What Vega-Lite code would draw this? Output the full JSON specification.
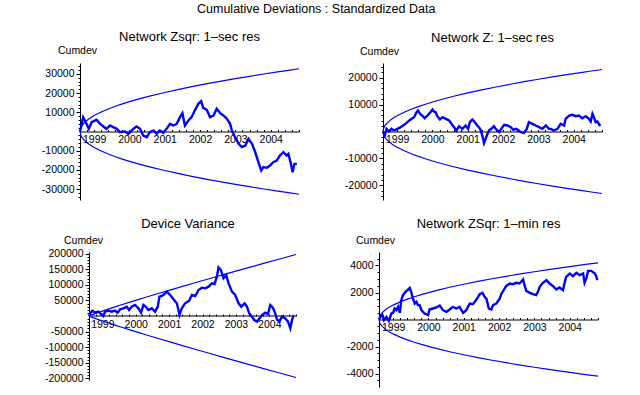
{
"$schema": "https://vega.github.io/schema/vega-lite/v6.json",
"padding": {"left": 41, "top": 2, "right": 5, "bottom": 5},
"title": {"text": "Cumulative  Deviations : Standardized  Data", "fontSize": 12.5, "anchor": "middle", "baseline": "alphabetic", "offset": 5.5, "dx": -7},
"config": {
 "view": {"stroke": null},
 "font": "Liberation Sans",
 "axis": {"grid": false, "domainColor": "#000", "tickColor": "#000", "labelColor": "#000", "titleColor": "#000", "labelFont": "Liberation Sans", "labelFontSize": 10.5, "titleFont": "Liberation Sans", "titleFontSize": 10.5, "titleFontWeight": "normal", "domainWidth": 1, "tickWidth": 1, "labelOverlap": false, "labelFlush": false, "tickCount": 100},
 "title": {"font": "Liberation Sans", "fontSize": 13, "fontWeight": "normal", "color": "#000"}
},
"datasets": {
 "zero": [{"a": 1998.6, "b": 2004.8, "z": 0}],
 "env": [
  {"t":1998.6,"u1":0,"u2":0,"u3":0,"u4":0,"l1":0,"l2":0,"l3":0,"l4":0},
  {"t":1998.62,"u1":1857,"u2":1306,"u3":1007,"u4":239,"l1":-1857,"l2":-1306,"l3":-1007,"l4":-239},
  {"t":1998.65,"u1":2936,"u2":2065,"u3":2336,"u4":377,"l1":-2936,"l2":-2065,"l3":-2336,"l4":-377},
  {"t":1998.7,"u1":4153,"u2":2921,"u3":4421,"u4":533,"l1":-4153,"l2":-2921,"l3":-4421,"l4":-533},
  {"t":1998.8,"u1":5873,"u2":4131,"u3":8363,"u4":754,"l1":-5873,"l2":-4131,"l3":-8363,"l4":-754},
  {"t":1998.9,"u1":7194,"u2":5060,"u3":12155,"u4":924,"l1":-7194,"l2":-5060,"l3":-12155,"l4":-924},
  {"t":1999.0,"u1":8306,"u2":5842,"u3":15819,"u4":1067,"l1":-8306,"l2":-5842,"l3":-15819,"l4":-1067},
  {"t":1999.2,"u1":10170,"u2":7153,"u3":22990,"u4":1306,"l1":-10170,"l2":-7153,"l3":-22990,"l4":-1306},
  {"t":1999.4,"u1":11739,"u2":8257,"u3":29944,"u4":1508,"l1":-11739,"l2":-8257,"l3":-29944,"l4":-1508},
  {"t":1999.6,"u1":13132,"u2":9237,"u3":36780,"u4":1687,"l1":-13132,"l2":-9237,"l3":-36780,"l4":-1687},
  {"t":1999.8,"u1":14388,"u2":10120,"u3":43478,"u4":1848,"l1":-14388,"l2":-10120,"l3":-43478,"l4":-1848},
  {"t":2000.0,"u1":15533,"u2":10925,"u3":50117,"u4":1995,"l1":-15533,"l2":-10925,"l3":-50117,"l4":-1995},
  {"t":2000.3,"u1":17122,"u2":12043,"u3":59927,"u4":2199,"l1":-17122,"l2":-12043,"l3":-59927,"l4":-2199},
  {"t":2000.6,"u1":18574,"u2":13064,"u3":69561,"u4":2386,"l1":-18574,"l2":-13064,"l3":-69561,"l4":-2386},
  {"t":2001.0,"u1":20339,"u2":14306,"u3":82287,"u4":2612,"l1":-20339,"l2":-14306,"l3":-82287,"l4":-2612},
  {"t":2001.4,"u1":21974,"u2":15456,"u3":94816,"u4":2822,"l1":-21974,"l2":-15456,"l3":-94816,"l4":-2822},
  {"t":2001.8,"u1":23479,"u2":16514,"u3":107188,"u4":3016,"l1":-23479,"l2":-16514,"l3":-107188,"l4":-3016},
  {"t":2002.2,"u1":24917,"u2":17526,"u3":119461,"u4":3200,"l1":-24917,"l2":-17526,"l3":-119461,"l4":-3200},
  {"t":2002.6,"u1":26258,"u2":18469,"u3":131655,"u4":3373,"l1":-26258,"l2":-18469,"l3":-131655,"l4":-3373},
  {"t":2003.0,"u1":27533,"u2":19366,"u3":143692,"u4":3536,"l1":-27533,"l2":-19366,"l3":-143692,"l4":-3536},
  {"t":2003.4,"u1":28776,"u2":20240,"u3":155669,"u4":3696,"l1":-28776,"l2":-20240,"l3":-155669,"l4":-3696},
  {"t":2003.8,"u1":29953,"u2":21068,"u3":167568,"u4":3847,"l1":-29953,"l2":-21068,"l3":-167568,"l4":-3847},
  {"t":2004.2,"u1":31065,"u2":21850,"u3":179388,"u4":3990,"l1":-31065,"l2":-21850,"l3":-179388,"l4":-3990},
  {"t":2004.5,"u1":31899,"u2":22437,"u3":188214,"u4":4097,"l1":-31899,"l2":-22437,"l3":-188214,"l4":-4097},
  {"t":2004.8,"u1":32700,"u2":23000,"u3":197000,"u4":4200,"l1":-32700,"l2":-23000,"l3":-197000,"l4":-4200}
 ],
 "p1": [
  {"t":1998.60,"v":0},{"t":1998.69,"v":7469},{"t":1998.74,"v":5732},{"t":1998.85,"v":1390},{"t":1998.93,"v":4864},{"t":1999.07,"v":6080},{"t":1999.17,"v":3995},{"t":1999.26,"v":2606},{"t":1999.35,"v":1390},{"t":1999.45,"v":3127},{"t":1999.54,"v":2258},{"t":1999.64,"v":1390},{"t":1999.73,"v":-347},{"t":1999.87,"v":0},{"t":1999.97,"v":-1216},{"t":2000.11,"v":1390},{"t":2000.20,"v":2606},{"t":2000.30,"v":1390},{"t":2000.39,"v":-2084},{"t":2000.49,"v":-2953},{"t":2000.58,"v":-347},{"t":2000.68,"v":521},{"t":2000.77,"v":-1216},{"t":2000.86,"v":521},{"t":2000.96,"v":-695},{"t":2001.05,"v":1390},{"t":2001.15,"v":3995},{"t":2001.24,"v":3127},{"t":2001.34,"v":3995},{"t":2001.43,"v":7469},{"t":2001.50,"v":9554},{"t":2001.57,"v":3127},{"t":2001.67,"v":5732},{"t":2001.76,"v":7469},{"t":2001.86,"v":11291},{"t":2001.95,"v":14417},{"t":2002.03,"v":15807},{"t":2002.09,"v":12333},{"t":2002.19,"v":11291},{"t":2002.28,"v":7469},{"t":2002.38,"v":8338},{"t":2002.47,"v":11812},{"t":2002.57,"v":9554},{"t":2002.66,"v":8338},{"t":2002.76,"v":6601},{"t":2002.85,"v":3995},{"t":2002.90,"v":521},{"t":2002.99,"v":-2953},{"t":2003.09,"v":-6427},{"t":2003.18,"v":-8164},{"t":2003.28,"v":-7295},{"t":2003.37,"v":-3821},{"t":2003.47,"v":-6427},{"t":2003.56,"v":-10769},{"t":2003.65,"v":-15980},{"t":2003.73,"v":-20323},{"t":2003.79,"v":-18586},{"t":2003.89,"v":-18933},{"t":2003.98,"v":-17717},{"t":2004.07,"v":-15980},{"t":2004.17,"v":-15112},{"t":2004.26,"v":-12506},{"t":2004.36,"v":-10769},{"t":2004.45,"v":-12506},{"t":2004.50,"v":-11638},{"t":2004.57,"v":-16849},{"t":2004.62,"v":-21191},{"t":2004.67,"v":-16849},{"t":2004.74,"v":-16849}
 ],
 "p2": [
  {"t":1998.60,"v":0},{"t":1998.65,"v":-1482},{"t":1998.70,"v":988},{"t":1998.77,"v":0},{"t":1998.84,"v":988},{"t":1998.91,"v":371},{"t":1999.01,"v":988},{"t":1999.10,"v":1606},{"t":1999.20,"v":2470},{"t":1999.29,"v":3458},{"t":1999.38,"v":4446},{"t":1999.48,"v":5311},{"t":1999.55,"v":7163},{"t":1999.59,"v":7781},{"t":1999.65,"v":6546},{"t":1999.71,"v":5928},{"t":1999.78,"v":4940},{"t":1999.86,"v":5928},{"t":1999.93,"v":6916},{"t":2000.00,"v":8151},{"t":2000.04,"v":7410},{"t":2000.09,"v":7163},{"t":2000.14,"v":5681},{"t":2000.21,"v":4446},{"t":2000.28,"v":5311},{"t":2000.38,"v":4693},{"t":2000.47,"v":4076},{"t":2000.54,"v":2841},{"t":2000.61,"v":1606},{"t":2000.68,"v":371},{"t":2000.75,"v":1976},{"t":2000.85,"v":988},{"t":2000.94,"v":2223},{"t":2001.01,"v":988},{"t":2001.06,"v":3458},{"t":2001.13,"v":4446},{"t":2001.20,"v":3458},{"t":2001.27,"v":2223},{"t":2001.35,"v":988},{"t":2001.41,"v":-1482},{"t":2001.46,"v":-4323},{"t":2001.54,"v":-1482},{"t":2001.60,"v":371},{"t":2001.67,"v":988},{"t":2001.74,"v":1976},{"t":2001.79,"v":988},{"t":2001.89,"v":-247},{"t":2001.95,"v":988},{"t":2002.03,"v":2470},{"t":2002.12,"v":2223},{"t":2002.22,"v":1606},{"t":2002.29,"v":618},{"t":2002.36,"v":988},{"t":2002.42,"v":618},{"t":2002.50,"v":-247},{"t":2002.59,"v":-494},{"t":2002.67,"v":988},{"t":2002.73,"v":3458},{"t":2002.83,"v":2841},{"t":2002.92,"v":2223},{"t":2003.02,"v":1606},{"t":2003.11,"v":988},{"t":2003.21,"v":2223},{"t":2003.30,"v":988},{"t":2003.35,"v":988},{"t":2003.44,"v":371},{"t":2003.54,"v":988},{"t":2003.63,"v":2841},{"t":2003.73,"v":2223},{"t":2003.77,"v":4693},{"t":2003.87,"v":5928},{"t":2003.96,"v":6175},{"t":2004.06,"v":5681},{"t":2004.15,"v":5928},{"t":2004.24,"v":4940},{"t":2004.34,"v":5681},{"t":2004.43,"v":4693},{"t":2004.48,"v":3705},{"t":2004.53,"v":6546},{"t":2004.57,"v":5311},{"t":2004.62,"v":3458},{"t":2004.67,"v":3705},{"t":2004.75,"v":1976}
 ],
 "p3": [
  {"t":1998.60,"v":0},{"t":1998.65,"v":10680},{"t":1998.70,"v":17088},{"t":1998.78,"v":10680},{"t":1998.88,"v":13884},{"t":1998.96,"v":6408},{"t":1999.03,"v":0},{"t":1999.08,"v":13884},{"t":1999.18,"v":17088},{"t":1999.28,"v":13884},{"t":1999.38,"v":17088},{"t":1999.46,"v":10680},{"t":1999.53,"v":21360},{"t":1999.63,"v":24564},{"t":1999.73,"v":29904},{"t":1999.80,"v":19224},{"t":1999.88,"v":29904},{"t":1999.98,"v":35244},{"t":2000.08,"v":24564},{"t":2000.16,"v":10680},{"t":2000.23,"v":35244},{"t":2000.30,"v":29904},{"t":2000.38,"v":19224},{"t":2000.48,"v":24564},{"t":2000.58,"v":13884},{"t":2000.66,"v":29904},{"t":2000.71,"v":61944},{"t":2000.78,"v":64080},{"t":2000.86,"v":70488},{"t":2000.93,"v":77964},{"t":2001.03,"v":67284},{"t":2001.13,"v":53400},{"t":2001.23,"v":40584},{"t":2001.28,"v":19224},{"t":2001.31,"v":3204},{"t":2001.38,"v":24564},{"t":2001.48,"v":40584},{"t":2001.60,"v":49128},{"t":2001.68,"v":67284},{"t":2001.78,"v":64080},{"t":2001.88,"v":83304},{"t":2001.98,"v":90780},{"t":2002.08,"v":88644},{"t":2002.18,"v":93984},{"t":2002.28,"v":104664},{"t":2002.36,"v":102528},{"t":2002.43,"v":126024},{"t":2002.48,"v":155928},{"t":2002.55,"v":147384},{"t":2002.63,"v":120684},{"t":2002.71,"v":131364},{"t":2002.78,"v":104664},{"t":2002.88,"v":77964},{"t":2002.98,"v":67284},{"t":2003.08,"v":40584},{"t":2003.16,"v":29904},{"t":2003.26,"v":40584},{"t":2003.33,"v":29904},{"t":2003.40,"v":8544},{"t":2003.48,"v":-2136},{"t":2003.55,"v":-12816},{"t":2003.63,"v":-18156},{"t":2003.71,"v":-7476},{"t":2003.78,"v":3204},{"t":2003.88,"v":10680},{"t":2003.96,"v":6408},{"t":2004.03,"v":35244},{"t":2004.10,"v":27768},{"t":2004.16,"v":13884},{"t":2004.23,"v":-10680},{"t":2004.30,"v":-18156},{"t":2004.38,"v":-2136},{"t":2004.48,"v":-7476},{"t":2004.56,"v":-18156},{"t":2004.63,"v":-39516},{"t":2004.68,"v":-12816},{"t":2004.73,"v":3204}
 ],
 "p4": [
  {"t":1998.60,"v":0},{"t":1998.64,"v":198},{"t":1998.69,"v":395},{"t":1998.74,"v":-49},{"t":1998.81,"v":198},{"t":1998.88,"v":-99},{"t":1998.95,"v":444},{"t":1999.00,"v":494},{"t":1999.04,"v":815},{"t":1999.09,"v":691},{"t":1999.14,"v":938},{"t":1999.19,"v":494},{"t":1999.23,"v":1432},{"t":1999.28,"v":1802},{"t":1999.35,"v":2049},{"t":1999.42,"v":2222},{"t":1999.47,"v":2346},{"t":1999.52,"v":1975},{"t":1999.56,"v":1555},{"t":1999.61,"v":1185},{"t":1999.66,"v":1309},{"t":1999.70,"v":1062},{"t":1999.75,"v":1062},{"t":1999.80,"v":691},{"t":1999.89,"v":444},{"t":1999.99,"v":321},{"t":2000.03,"v":741},{"t":2000.13,"v":815},{"t":2000.22,"v":889},{"t":2000.32,"v":1037},{"t":2000.41,"v":691},{"t":2000.51,"v":568},{"t":2000.60,"v":741},{"t":2000.69,"v":938},{"t":2000.79,"v":815},{"t":2000.88,"v":938},{"t":2000.98,"v":494},{"t":2001.07,"v":691},{"t":2001.17,"v":1185},{"t":2001.26,"v":1136},{"t":2001.36,"v":1481},{"t":2001.45,"v":1876},{"t":2001.53,"v":1975},{"t":2001.59,"v":1679},{"t":2001.64,"v":1555},{"t":2001.71,"v":815},{"t":2001.78,"v":741},{"t":2001.83,"v":1062},{"t":2001.92,"v":1185},{"t":2002.02,"v":1555},{"t":2002.06,"v":1876},{"t":2002.13,"v":2173},{"t":2002.20,"v":2469},{"t":2002.30,"v":2667},{"t":2002.39,"v":2617},{"t":2002.49,"v":2716},{"t":2002.58,"v":2667},{"t":2002.68,"v":2963},{"t":2002.72,"v":2543},{"t":2002.77,"v":2123},{"t":2002.87,"v":1975},{"t":2002.96,"v":1876},{"t":2003.05,"v":1802},{"t":2003.10,"v":2049},{"t":2003.15,"v":2420},{"t":2003.24,"v":2716},{"t":2003.34,"v":2913},{"t":2003.43,"v":2667},{"t":2003.53,"v":2469},{"t":2003.62,"v":2222},{"t":2003.71,"v":2370},{"t":2003.81,"v":2173},{"t":2003.86,"v":2790},{"t":2003.90,"v":3160},{"t":2004.00,"v":3407},{"t":2004.09,"v":3210},{"t":2004.19,"v":3457},{"t":2004.28,"v":3284},{"t":2004.38,"v":3407},{"t":2004.42,"v":2716},{"t":2004.47,"v":3037},{"t":2004.52,"v":3605},{"t":2004.61,"v":3605},{"t":2004.71,"v":3407},{"t":2004.75,"v":3210},{"t":2004.78,"v":2913}
 ]
},
"columns": 2,
"align": "none",
"spacing": {"row": 15, "column": 42},
"concat": [
  {"width": 219, "height": 137,
   "title": {"text": "Network  Zsqr: 1–sec res", "frame": "group", "anchor": "middle", "baseline": "alphabetic", "offset": -8.5},
   "layer": [
    {"data": {"name": "env"}, "mark": {"type": "line", "color": "#0000ff", "strokeWidth": 1.2},
     "encoding": {
      "x": {"field": "t", "type": "quantitative", "title": null, "scale": {"domain": [1998.6, 2004.8], "nice": false, "zero": false},
        "axis": {"orient": "bottom", "offset": -68.5, "tickCount": 100, "values": [1998.8,1999,1999.2,1999.4,1999.6,1999.8,2000,2000.2,2000.4,2000.6,2000.8,2001,2001.2,2001.4,2001.6,2001.8,2002,2002.2,2002.4,2002.6,2002.8,2003,2003.2,2003.4,2003.6,2003.8,2004,2004.2,2004.4,2004.6,2004.8], "labelExpr": "abs(datum.value - round(datum.value)) < 0.01 ? format(round(datum.value), 'd') : ''", "tickSize": -2, "labelPadding": 5, "labelBaseline": "top"}},
      "y": {"field": "u1", "type": "quantitative", "title": "Cumdev", "scale": {"domain": [-35700, 35700], "nice": false},
        "axis": {"tickCount": 100, "values": [-34000,-32000,-30000,-28000,-26000,-24000,-22000,-20000,-18000,-16000,-14000,-12000,-10000,-8000,-6000,-4000,-2000,2000,4000,6000,8000,10000,12000,14000,16000,18000,20000,22000,24000,26000,28000,30000,32000,34000], "labelExpr": "datum.value % 10000 == 0 ? (datum.value < 0 ? '-' : '') + format(abs(datum.value), 'd') : ''", "tickSize": {"condition": {"test": "datum.value % 10000 == 0", "value": 4}, "value": 2}, "labelPadding": 2, "titleAngle": 0, "titleAlign": "center", "titleBaseline": "alphabetic", "titleX": -3, "titleY": -10}}
     }},
    {"data": {"name": "env"}, "mark": {"type": "line", "color": "#0000ff", "strokeWidth": 1.2},
     "encoding": {"x": {"field": "t", "type": "quantitative", "title": null}, "y": {"field": "l1", "type": "quantitative", "title": "Cumdev"}}},
    {"data": {"name": "p1"}, "mark": {"type": "line", "color": "#0000ff", "strokeWidth": 2.4},
     "encoding": {"x": {"field": "t", "type": "quantitative", "title": null}, "y": {"field": "v", "type": "quantitative", "title": "Cumdev"}}}
   ]},
  {"width": 219, "height": 137,
   "title": {"text": "Network  Z: 1–sec res", "frame": "group", "anchor": "middle", "baseline": "alphabetic", "offset": -8.5},
   "layer": [
    {"data": {"name": "env"}, "mark": {"type": "line", "color": "#0000ff", "strokeWidth": 1.2},
     "encoding": {
      "x": {"field": "t", "type": "quantitative", "title": null, "scale": {"domain": [1998.6, 2004.8], "nice": false, "zero": false},
        "axis": {"orient": "bottom", "offset": -68.5, "tickCount": 100, "values": [1998.8,1999,1999.2,1999.4,1999.6,1999.8,2000,2000.2,2000.4,2000.6,2000.8,2001,2001.2,2001.4,2001.6,2001.8,2002,2002.2,2002.4,2002.6,2002.8,2003,2003.2,2003.4,2003.6,2003.8,2004,2004.2,2004.4,2004.6,2004.8], "labelExpr": "abs(datum.value - round(datum.value)) < 0.01 ? format(round(datum.value), 'd') : ''", "tickSize": -2, "labelPadding": 5, "labelBaseline": "top"}},
      "y": {"field": "u2", "type": "quantitative", "title": "Cumdev", "scale": {"domain": [-25400, 25400], "nice": false},
        "axis": {"tickCount": 100, "values": [-24000,-22000,-20000,-18000,-16000,-14000,-12000,-10000,-8000,-6000,-4000,-2000,2000,4000,6000,8000,10000,12000,14000,16000,18000,20000,22000,24000], "labelExpr": "datum.value % 10000 == 0 ? (datum.value < 0 ? '-' : '') + format(abs(datum.value), 'd') : ''", "tickSize": {"condition": {"test": "datum.value % 10000 == 0", "value": 4}, "value": 2}, "labelPadding": 2, "titleAngle": 0, "titleAlign": "center", "titleBaseline": "alphabetic", "titleX": -4, "titleY": -9}}
     }},
    {"data": {"name": "env"}, "mark": {"type": "line", "color": "#0000ff", "strokeWidth": 1.2},
     "encoding": {"x": {"field": "t", "type": "quantitative", "title": null}, "y": {"field": "l2", "type": "quantitative", "title": "Cumdev"}}},
    {"data": {"name": "p2"}, "mark": {"type": "line", "color": "#0000ff", "strokeWidth": 2.4},
     "encoding": {"x": {"field": "t", "type": "quantitative", "title": null}, "y": {"field": "v", "type": "quantitative", "title": "Cumdev"}}}
   ]},
  {"width": 216, "height": 128,
   "title": {"text": "Device  Variance", "frame": "group", "anchor": "middle", "baseline": "alphabetic", "offset": -6},
   "layer": [
    {"data": {"name": "zero"}, "mark": {"type": "rule", "color": "#000", "strokeWidth": 1},
     "encoding": {
      "x": {"field": "a", "type": "quantitative", "title": null, "scale": {"domain": [1998.3304, 2004.8], "nice": false, "zero": false},
        "axis": {"orient": "bottom", "offset": -64, "domain": false, "tickCount": 100, "values": [1998.8,1999,1999.2,1999.4,1999.6,1999.8,2000,2000.2,2000.4,2000.6,2000.8,2001,2001.2,2001.4,2001.6,2001.8,2002,2002.2,2002.4,2002.6,2002.8,2003,2003.2,2003.4,2003.6,2003.8,2004,2004.2,2004.4,2004.6,2004.8], "labelExpr": "abs(datum.value - round(datum.value)) < 0.01 ? format(round(datum.value), 'd') : ''", "tickSize": -2, "labelPadding": 5, "labelBaseline": "top"}},
      "x2": {"field": "b"},
      "y": {"field": "z", "type": "quantitative", "title": "Cumdev", "scale": {"domain": [-205000, 205000], "nice": false},
        "axis": {"offset": -9, "tickCount": 100, "values": [-200000,-190000,-180000,-170000,-160000,-150000,-140000,-130000,-120000,-110000,-100000,-90000,-80000,-70000,-60000,-50000,-40000,-30000,-20000,-10000,10000,20000,30000,40000,50000,60000,70000,80000,90000,100000,110000,120000,130000,140000,150000,160000,170000,180000,190000,200000], "labelExpr": "datum.value % 50000 == 0 ? (datum.value < 0 ? '-' : '') + format(abs(datum.value), 'd') : ''", "tickSize": {"condition": {"test": "datum.value % 50000 == 0", "value": 4}, "value": 2}, "labelPadding": 2, "titleAngle": 0, "titleAlign": "center", "titleBaseline": "alphabetic", "titleX": -6, "titleY": -9}}
     }},
    {"data": {"name": "env"}, "mark": {"type": "line", "color": "#0000ff", "strokeWidth": 1.2},
     "encoding": {"x": {"field": "t", "type": "quantitative", "title": null}, "y": {"field": "u3", "type": "quantitative", "title": "Cumdev"}}},
    {"data": {"name": "env"}, "mark": {"type": "line", "color": "#0000ff", "strokeWidth": 1.2},
     "encoding": {"x": {"field": "t", "type": "quantitative", "title": null}, "y": {"field": "l3", "type": "quantitative", "title": "Cumdev"}}},
    {"data": {"name": "p3"}, "mark": {"type": "line", "color": "#0000ff", "strokeWidth": 2.4},
     "encoding": {"x": {"field": "t", "type": "quantitative", "title": null}, "y": {"field": "v", "type": "quantitative", "title": "Cumdev"}}}
   ]},
  {"width": 219, "height": 135,
   "title": {"text": "Network  ZSqr: 1–min res", "frame": "group", "anchor": "middle", "baseline": "alphabetic", "offset": -6},
   "layer": [
    {"data": {"name": "env"}, "mark": {"type": "line", "color": "#0000ff", "strokeWidth": 1.2},
     "encoding": {
      "x": {"field": "t", "type": "quantitative", "title": null, "scale": {"domain": [1998.6, 2004.8], "nice": false, "zero": false},
        "axis": {"orient": "bottom", "offset": -67.5, "tickCount": 100, "values": [1998.8,1999,1999.2,1999.4,1999.6,1999.8,2000,2000.2,2000.4,2000.6,2000.8,2001,2001.2,2001.4,2001.6,2001.8,2002,2002.2,2002.4,2002.6,2002.8,2003,2003.2,2003.4,2003.6,2003.8,2004,2004.2,2004.4,2004.6,2004.8], "labelExpr": "abs(datum.value - round(datum.value)) < 0.01 ? format(round(datum.value), 'd') : ''", "tickSize": -2, "labelPadding": 5, "labelBaseline": "top"}},
      "y": {"field": "u4", "type": "quantitative", "title": "Cumdev", "scale": {"domain": [-5000, 5000], "nice": false},
        "axis": {"tickCount": 100, "minExtent": 35, "values": [-4500,-4000,-3500,-3000,-2500,-2000,-1500,-1000,-500,500,1000,1500,2000,2500,3000,3500,4000,4500], "labelExpr": "datum.value % 2000 == 0 ? (datum.value < 0 ? '-' : '') + format(abs(datum.value), 'd') : ''", "tickSize": {"condition": {"test": "datum.value % 2000 == 0", "value": 4}, "value": 2}, "labelPadding": 2, "titleAngle": 0, "titleAlign": "center", "titleBaseline": "alphabetic", "titleX": -4, "titleY": -9}}
     }},
    {"data": {"name": "env"}, "mark": {"type": "line", "color": "#0000ff", "strokeWidth": 1.2},
     "encoding": {"x": {"field": "t", "type": "quantitative", "title": null}, "y": {"field": "l4", "type": "quantitative", "title": "Cumdev"}}},
    {"data": {"name": "p4"}, "mark": {"type": "line", "color": "#0000ff", "strokeWidth": 2.4},
     "encoding": {"x": {"field": "t", "type": "quantitative", "title": null}, "y": {"field": "v", "type": "quantitative", "title": "Cumdev"}}}
   ]}
]
}
